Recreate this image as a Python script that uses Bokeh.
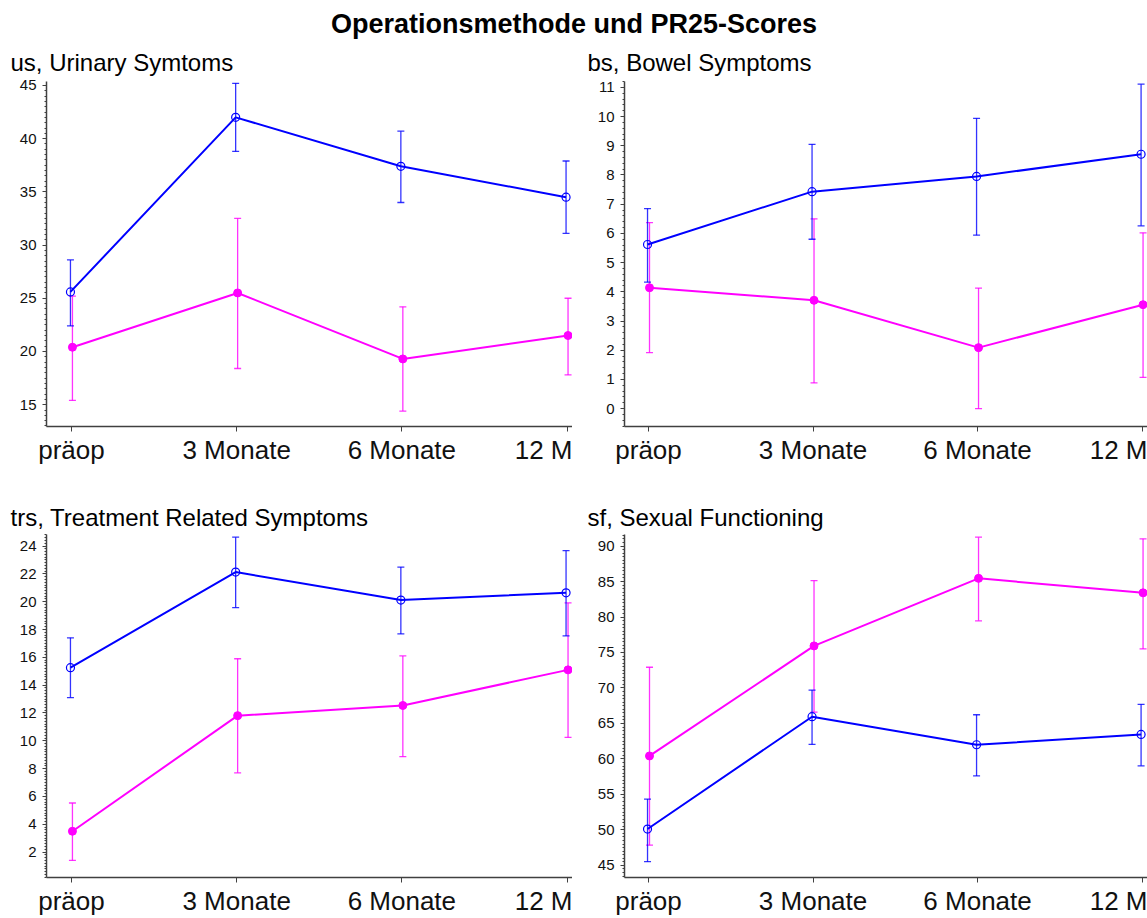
from bokeh.plotting import figure
from bokeh.layouts import column, row
from bokeh.models import (ColumnDataSource, Whisker, TeeHead, SingleIntervalTicker,
                          FixedTicker, Range1d)
from bokeh.embed import file_html
from bokeh.resources import INLINE
from bokeh.core.properties import value

FONT = "Liberation Sans"
BLUE = "#0000ff"
MAGENTA = "#ff00ff"

timepoints = ["präop", "3 Monate", "6 Monate", "12 M"]

# us, Urinary Symptoms: mean with lower / upper error limits
us_a_mean = [25.6, 42.0, 37.4, 34.5]
us_a_lo = [22.4, 38.8, 34.0, 31.1]
us_a_hi = [28.6, 45.2, 40.7, 37.9]
us_b_mean = [20.4, 25.5, 19.3, 21.5]
us_b_lo = [15.4, 18.4, 14.4, 17.8]
us_b_hi = [25.2, 32.5, 24.2, 25.0]

# bs, Bowel Symptoms
bs_a_mean = [5.62, 7.43, 7.95, 8.71]
bs_a_lo = [4.33, 5.80, 5.94, 6.26]
bs_a_hi = [6.85, 9.05, 9.94, 11.11]
bs_b_mean = [4.14, 3.71, 2.09, 3.56]
bs_b_lo = [1.92, 0.88, 0.0, 1.07]
bs_b_hi = [6.37, 6.50, 4.13, 6.02]

# trs, Treatment Related Symptoms
trs_a_mean = [15.26, 22.13, 20.12, 20.64]
trs_a_lo = [13.11, 19.58, 17.68, 17.54]
trs_a_hi = [17.40, 24.64, 22.49, 23.67]
trs_b_mean = [3.50, 11.81, 12.54, 15.10]
trs_b_lo = [1.40, 7.70, 8.87, 10.25]
trs_b_hi = [5.53, 15.90, 16.10, 19.91]

# sf, Sexual Functioning
sf_a_mean = [50.12, 65.95, 62.00, 63.45]
sf_a_lo = [45.52, 62.05, 57.60, 59.03]
sf_a_hi = [54.34, 69.70, 66.23, 67.70]
sf_b_mean = [60.42, 75.93, 85.45, 83.41]
sf_b_lo = [47.84, 66.60, 79.46, 75.51]
sf_b_hi = [72.92, 85.12, 91.25, 91.02]

DODGE = 0.006


def add_series(p, mean, lo, hi, color, dx, open_marker):
    xs = [i + dx for i in range(len(mean))]
    src = ColumnDataSource(dict(x=xs, mean=mean, lo=lo, hi=hi))
    head = dict(size=7, line_color=color, line_width=1.3, line_alpha=0.8)
    p.add_layout(Whisker(source=src, base="x", lower="lo", upper="hi",
                         dimension="height", line_color=color, line_width=1.3,
                         line_alpha=0.8,
                         lower_head=TeeHead(**head), upper_head=TeeHead(**head)))
    p.line("x", "mean", source=src, line_color=color, line_width=2)
    if open_marker:
        p.scatter("x", "mean", source=src, marker="circle", size=8,
                  fill_color=None, line_color=color, line_width=1.2)
    else:
        p.scatter("x", "mean", source=src, marker="circle", size=8,
                  fill_color=color, line_color=color, line_width=1)


def make_panel(title, a, b, yr, interval, n_minor, width, height,
               border_left, border_top, border_bottom, xr, title_offset,
               title_standoff):
    p = figure(width=width, height=height, x_range=Range1d(*xr),
               y_range=Range1d(*yr), output_backend="svg",
               toolbar_location=None, min_border_left=border_left,
               min_border_right=0, min_border_top=border_top,
               min_border_bottom=border_bottom, outline_line_color=None,
               title=title)
    p.title.align = "left"
    p.title.offset = title_offset
    p.title.standoff = title_standoff
    p.title.text_font = FONT
    p.title.text_font_size = "24px"
    p.title.text_font_style = "normal"
    p.title.text_color = "#000000"
    p.grid.visible = False

    for ax in p.axis:
        ax.axis_line_color = "#404040"
        ax.axis_line_width = 1.5
        ax.major_tick_line_color = "#404040"
        ax.minor_tick_line_color = "#404040"
        ax.major_tick_in = 0
        ax.minor_tick_in = 0
        ax.major_label_text_font = FONT
        ax.major_label_text_color = "#111111"

    xa = p.xaxis[0]
    xa.ticker = FixedTicker(ticks=list(range(len(timepoints))))
    xa.major_label_overrides = {i: t for i, t in enumerate(timepoints)}
    xa.major_label_text_font_size = "26px"
    xa.major_tick_out = 5
    xa.major_label_standoff = 3
    xa.minor_tick_out = 0

    ya = p.yaxis[0]
    ya.ticker = SingleIntervalTicker(interval=interval, num_minor_ticks=n_minor)
    ya.major_label_text_font_size = "15px"
    ya.major_tick_out = 4
    ya.minor_tick_out = 2
    ya.major_label_standoff = 6

    add_series(p, *b, MAGENTA, DODGE, False)
    add_series(p, *a, BLUE, -DODGE, True)
    return p


LEFT_X = (-0.151, 3.033)
RIGHT_X = (-0.146, 3.033)

p_us = make_panel("us, Urinary Symtoms",
                  (us_a_mean, us_a_lo, us_a_hi), (us_b_mean, us_b_lo, us_b_hi),
                  (12.95, 45.37), 5, 10, 572, 438, 46, 40, 52, LEFT_X, -36, 12)
p_bs = make_panel("bs, Bowel Symptoms",
                  (bs_a_mean, bs_a_lo, bs_a_hi), (bs_b_mean, bs_b_lo, bs_b_hi),
                  (-0.61, 11.2), 1, 5, 575, 438, 52, 40, 52, RIGHT_X, -37, 12)
p_trs = make_panel("trs, Treatment Related Symptoms",
                   (trs_a_mean, trs_a_lo, trs_a_hi), (trs_b_mean, trs_b_lo, trs_b_hi),
                   (0.175, 24.83), 2, 10, 572, 440, 46, 56, 37, LEFT_X, -36, 8)
p_sf = make_panel("sf, Sexual Functioning",
                  (sf_a_mean, sf_a_lo, sf_a_hi), (sf_b_mean, sf_b_lo, sf_b_hi),
                  (43.29, 91.63), 5, 10, 575, 440, 52, 56, 37, RIGHT_X, -37, 8)

# overall heading
head = figure(width=1147, height=40, x_range=Range1d(0, 1), y_range=Range1d(0, 1),
              output_backend="svg", toolbar_location=None, min_border=0,
              outline_line_color=None, x_axis_location=None, y_axis_location=None)
head.grid.visible = False
head.text(x=[0.5], y=[0.42], text=["Operationsmethode und PR25-Scores"],
          text_align="center", text_baseline="middle", text_font=value(FONT),
          text_font_size="27px", text_font_style="bold", text_color="#000000")

layout = column(head, row(p_us, p_bs), row(p_trs, p_sf))

with open("out.html", "w") as f:
    f.write(file_html(layout, INLINE))
